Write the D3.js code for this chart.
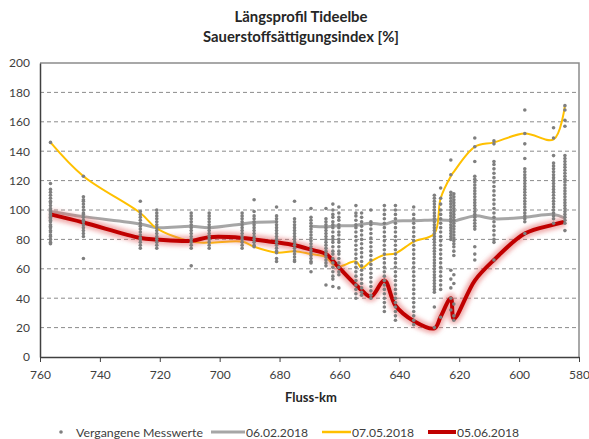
<!DOCTYPE html>
<html>
<head>
<meta charset="utf-8">
<script src="https://cdn.jsdelivr.net/npm/d3@7"></script>
<style>
  body { margin: 0; background: #fff; }
  svg text { font-family: Lato, "Open Sans", sans-serif; }
</style>
</head>
<body>
<script>
// Stations (Fluss-km) and readings
var stationKm = [756.5, 745.5, 726.5, 721, 709.5, 703.5, 692.5, 688.5, 681, 675,
    669.5, 664.5, 662.2, 660.2, 654.5, 652.6, 649.5, 645, 641.3, 635.2,
    628.3, 626.2, 622.8, 621.8, 614.8, 608.4, 598.1, 588.5, 584.7];

// 06.02.2018 (null = no value)
var seriesFeb = [99, 95.5, 90.5, 88, 89, 88, 90.5, 91.5, 92, null,
    89, 88.6, 89, 89.3, 89.5, 90.3, 91, 90.3, 92.5, 92.7,
    93.2, 93.2, 92.8, 92.5, 96, 94, 95, 97, 94.5];

// 07.05.2018
var seriesMay = [146, 123, 98, 87.5, 78.5, 77.8, 78.5, 75, 71, 72,
    70, 68, 63, 61.5, 65, 60.5, 65, 69.5, 70.5, 78.5,
    84, 108, 123, 126, 143, 146, 152, 148, 171];

// 05.06.2018
var seriesJun = [97, 91.5, 81, 80, 79, 81.5, 81, 80, 78, 76,
    73, 70, 65.5, 61, 49, 45.5, 41, 52, 35, 24.5,
    19.5, 27.4, 40, 26, 52, 66, 84, 90, 92];

// Vergangene Messwerte, one list per station
var pastValues = [
    [146, 118, 114, 112, 110, 108, 106, 105, 103, 101, 100, 99, 98, 97, 96, 95, 94, 93, 92, 90, 89, 88, 86, 85, 83, 82, 80, 78, 77],
    [123, 109, 107, 106, 104, 102, 100, 98, 97, 95, 93, 92, 90, 88, 86, 84, 82, 67],
    [106, 99, 97, 95, 93, 91, 89, 87, 85, 83, 81, 80, 78, 76, 74],
    [100, 98, 96, 94, 92, 90, 88, 86, 84, 82, 80, 78, 76, 74],
    [98, 96, 94, 92, 90, 88, 86, 84, 82, 80, 78, 76, 74, 62],
    [98, 96, 94, 92, 90, 88, 86, 84, 82, 80, 78, 76, 74],
    [98, 96, 94, 92, 90, 88, 86, 84, 82, 80, 78, 76, 74],
    [107, 99, 96, 94, 92, 90, 88, 86, 84, 82, 80, 78, 76, 75],
    [102, 96, 94, 92, 90, 88, 86, 84, 82, 80, 78, 76, 74, 72, 71, 67, 65],
    [106, 94, 92, 90, 88, 86, 84, 82, 80, 78, 76, 74, 72, 70, 68, 66, 65],
    [101, 95, 93, 91, 89, 87, 85, 83, 81, 79, 77, 75, 73, 71, 69, 67, 65, 64, 58],
    [101, 94, 92, 90, 88, 86, 84, 82, 80, 78, 76, 74, 72, 70, 68, 66, 64, 62, 49],
    [104, 100, 97, 95, 92, 90, 88, 85, 82, 80, 78, 75, 72, 70, 67, 64, 61, 58, 55, 53, 48],
    [102, 98, 95, 93, 90, 88, 85, 83, 80, 78, 75, 72, 70, 67, 64, 61, 58, 56, 47],
    [103, 98, 96, 93, 90, 88, 85, 82, 79, 76, 73, 70, 67, 64, 61, 58, 55, 52, 49, 46, 43, 40],
    [98, 95, 92, 89, 86, 83, 80, 77, 74, 71, 68, 65, 62, 59, 56, 53, 50, 47, 44, 42],
    [100, 92, 90, 87, 84, 81, 78, 75, 72, 69, 66, 63, 60, 57, 54, 51, 48, 45, 42, 40],
    [103, 100, 97, 94, 91, 88, 85, 82, 79, 76, 73, 70, 67, 64, 61, 58, 55, 52, 49, 46, 43, 40, 37, 34, 31],
    [103, 100, 97, 94, 91, 88, 85, 82, 79, 76, 73, 70, 67, 64, 61, 58, 55, 52, 49, 46, 43, 40, 37, 34, 31, 28, 25],
    [102, 97, 94, 91, 88, 85, 82, 79, 76, 73, 70, 67, 64, 61, 58, 55, 52, 49, 46, 43, 40, 37, 34, 31, 28, 25, 22],
    [110, 108, 106, 104, 102, 100, 98, 96, 94, 92, 90, 88, 86, 84, 82, 80, 78, 76, 74, 72, 70, 68, 66, 64, 62, 60, 58, 56, 54, 52, 50, 48, 46, 44, 34, 20],
    [115, 108, 104, 100, 97, 94, 91, 88, 85, 82, 79, 76, 73, 70, 67, 64, 61, 58, 55, 52, 49, 46, 27],
    [134, 124, 112, 110, 108, 106, 104, 102, 100, 98, 96, 94, 92, 90, 88, 86, 84, 82, 80, 59, 53, 47, 40, 32],
    [111, 109, 107, 105, 103, 101, 99, 97, 95, 93, 91, 89, 87, 85, 83, 81, 79, 77, 75, 72, 69, 56, 50, 36, 28, 25],
    [149, 143, 133, 123, 121, 119, 117, 115, 113, 111, 109, 107, 105, 103, 101, 99, 97, 95, 93, 91, 89, 87, 75, 70, 66],
    [147, 145, 133, 131, 128, 125, 122, 119, 116, 113, 110, 107, 104, 101, 98, 95, 92, 89, 86, 83, 80, 78, 66],
    [168, 152, 145, 135, 128, 126, 124, 122, 120, 118, 116, 114, 112, 110, 108, 106, 104, 102, 100, 98, 96, 94, 92, 84],
    [156, 149, 137, 132, 130, 128, 126, 124, 122, 120, 118, 116, 114, 112, 110, 108, 106, 104, 102, 100, 98, 96, 94, 91],
    [171, 168, 161, 157, 137, 135, 133, 131, 129, 127, 125, 123, 121, 119, 117, 115, 113, 111, 109, 107, 105, 103, 101, 99, 97, 95, 93, 91, 86]
];

var xTicks = [760, 740, 720, 700, 680, 660, 640, 620, 600, 580];
var yTicks = [0, 20, 40, 60, 80, 100, 120, 140, 160, 180, 200];
var titleLines = ["Längsprofil Tideelbe", "Sauerstoffsättigungsindex [%]"];
var legendLabels = ["Vergangene Messwerte", "06.02.2018", "07.05.2018", "05.06.2018"];

(function drawChart () {
    "use strict";
    var width = 589,
        height = 439,
        left = 40,
        right = 579,
        top = 63,
        bottom = 357,
        colGray = "#a6a6a6",
        colYellow = "#ffc000",
        colRed = "#c00000",
        colDot = "#7f7f7f";

    var svg = d3.select("body").append("svg")
        .attr("width", width)
        .attr("height", height);

    var defs = svg.append("defs");
    defs.append("filter")
        .attr("id", "glow")
        .attr("x", "-10%").attr("y", "-10%")
        .attr("width", "120%").attr("height", "120%")
        .append("feGaussianBlur")
        .attr("stdDeviation", 2);

    var x = d3.scaleLinear().domain([760, 580]).range([left, right]);
    var y = d3.scaleLinear().domain([0, 200]).range([bottom, top]);

    // shrink/grow a text node until it is about w pixels wide
    function fitWidth (sel, w) {
        var fs = +sel.attr("font-size"),
            len = sel.node().getComputedTextLength();
        if (len > 0) sel.attr("font-size", (fs * w / len).toFixed(2));
        return sel;
    }

    // title
    var titleWidths = [133, 196];
    svg.append("g").selectAll("text")
        .data(titleLines)
        .enter().append("text")
        .attr("x", 301)
        .attr("y", function (d, i) { return 22 + i * 20; })
        .attr("text-anchor", "middle")
        .attr("font-size", 14)
        .attr("font-weight", "bold")
        .attr("fill", "#262626")
        .text(function (d) { return d; })
        .each(function (d, i) { fitWidth(d3.select(this), titleWidths[i]); });

    // gridlines
    svg.append("g").selectAll("line")
        .data(yTicks.filter(function (v) { return v > 0 && v < 200; }))
        .enter().append("line")
        .attr("x1", left).attr("x2", right)
        .attr("y1", function (d) { return y(d); })
        .attr("y2", function (d) { return y(d); })
        .attr("stroke", "#8c8c8c")
        .attr("stroke-width", 1)
        .attr("stroke-dasharray", "4,3");

    // plot frame (top and right)
    svg.append("path")
        .attr("d", "M" + left + "," + top + "H" + right + "V" + bottom)
        .attr("fill", "none")
        .attr("stroke", "#8c8c8c")
        .attr("stroke-width", 1.5);

    // axes
    var xAxis = svg.append("g")
        .attr("transform", "translate(0," + bottom + ")")
        .call(d3.axisBottom(x).tickValues(xTicks).tickSize(5).tickPadding(8).tickSizeOuter(0));
    xAxis.select(".domain").attr("stroke", "#404040").attr("stroke-width", 1.5);
    xAxis.selectAll(".tick line").attr("stroke", "#404040");
    xAxis.selectAll("text").attr("font-size", 12).attr("fill", "#404040");

    var yAxis = svg.append("g")
        .attr("transform", "translate(" + left + ",0)")
        .call(d3.axisLeft(y).tickValues(yTicks).tickSize(0).tickPadding(10).tickSizeOuter(0));
    yAxis.select(".domain").attr("stroke", "#404040").attr("stroke-width", 1.5);
    yAxis.selectAll("text").attr("font-size", 12).attr("fill", "#404040");

    svg.append("text")
        .attr("x", 311).attr("y", 402)
        .attr("text-anchor", "middle")
        .attr("font-size", 13)
        .attr("font-weight", "bold")
        .attr("fill", "#262626")
        .text("Fluss-km");

    // lines
    function seriesLine (vals) {
        return d3.line()
            .defined(function (d, i) { return vals[i] !== null; })
            .x(function (d, i) { return x(stationKm[i]); })
            .y(function (d, i) { return y(vals[i]); })
            .curve(d3.curveCatmullRom)(vals);
    }

    var lines = svg.append("g");
    lines.append("path")
        .attr("d", seriesLine(seriesFeb))
        .attr("fill", "none")
        .attr("stroke", colGray)
        .attr("stroke-width", 3);
    lines.append("path")
        .attr("d", seriesLine(seriesMay))
        .attr("fill", "none")
        .attr("stroke", colYellow)
        .attr("stroke-width", 2);
    lines.append("path")
        .attr("d", seriesLine(seriesJun))
        .attr("fill", "none")
        .attr("stroke", "#e46c6c")
        .attr("stroke-opacity", 0.55)
        .attr("stroke-width", 10)
        .attr("filter", "url(#glow)");
    lines.append("path")
        .attr("d", seriesLine(seriesJun))
        .attr("fill", "none")
        .attr("stroke", colRed)
        .attr("stroke-width", 4);

    // past measurements
    var pts = [];
    pastValues.forEach(function (list, i) {
        list.forEach(function (v) { pts.push([stationKm[i], v]); });
    });
    svg.append("g").selectAll("circle")
        .data(pts)
        .enter().append("circle")
        .attr("cx", function (d) { return x(d[0]); })
        .attr("cy", function (d) { return y(d[1]); })
        .attr("r", 1.8)
        .attr("fill", colDot);

    // legend
    var lg = svg.append("g").attr("fill", "#404040");
    lg.append("circle").attr("cx", 61).attr("cy", 432).attr("r", 1.8).attr("fill", colDot);
    fitWidth(lg.append("text").attr("x", 76).attr("y", 436.5).attr("font-size", 13).text(legendLabels[0]), 127);
    var items = [
        { x1: 211, x2: 245, c: colGray, w: 3, label: legendLabels[1] },
        { x1: 322, x2: 351, c: colYellow, w: 2.5, label: legendLabels[2] },
        { x1: 428, x2: 456, c: colRed, w: 4, label: legendLabels[3] }
    ];
    items.forEach(function (it) {
        lg.append("line")
            .attr("x1", it.x1).attr("x2", it.x2)
            .attr("y1", 432).attr("y2", 432)
            .attr("stroke", it.c).attr("stroke-width", it.w);
        fitWidth(lg.append("text").attr("x", it.x2 + 1).attr("y", 436.5)
            .attr("font-size", 13).text(it.label), 62);
    });
})();
</script>
</body>
</html>
